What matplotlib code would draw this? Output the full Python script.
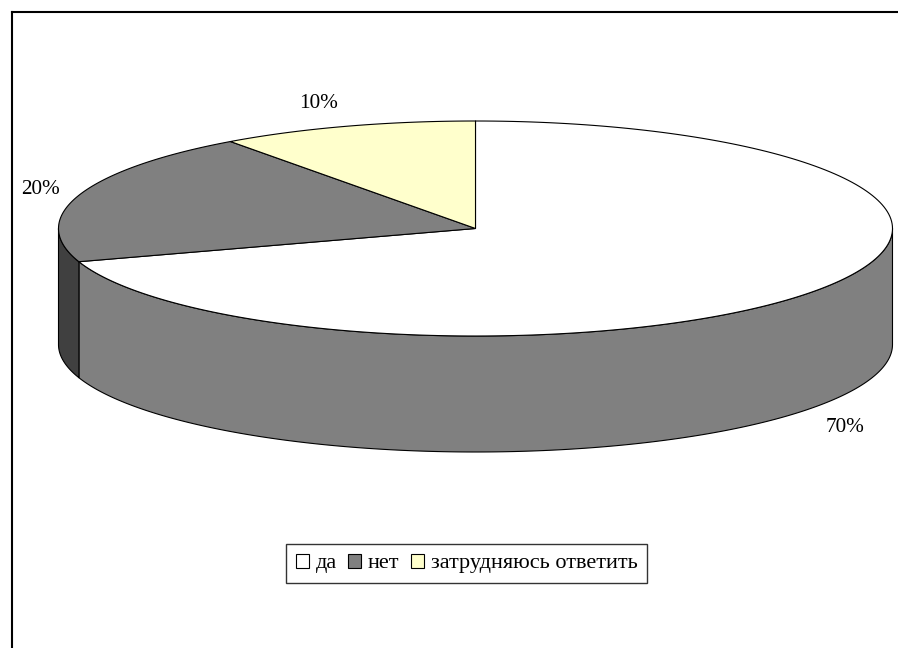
import numpy as np
import matplotlib.pyplot as plt
from matplotlib.patches import Polygon, Patch
from matplotlib.lines import Line2D

# ---- data ----
categories = ['да', 'нет', 'затрудняюсь ответить']
values = [70, 20, 10]
pct_labels = ['70%', '20%', '10%']

# ---- styles ----
top_colors = ['#FFFFFF', '#808080', '#FFFFCC']
side_colors = ['#808080', '#404040', '#808066']
label_pos = [(845, 427), (41, 190), (318.7, 104)]
FONT = ['Liberation Serif', 'DejaVu Serif']

W, H = 898, 648
fig = plt.figure(figsize=(W / 100, H / 100), dpi=100)
ax = fig.add_axes([0, 0, 1, 1])
ax.set_xlim(0, W)
ax.set_ylim(H, 0)
ax.axis('off')

cx, cy = 475.5, 228.5
a, b = 417.0, 107.5
depth = 116.0
ec = 'black'
lw = 0.8


def arc(t0, t1, dy=0.0, n=200):
    t = np.radians(np.linspace(t0, t1, n))
    return np.column_stack([cx + a * np.cos(t), cy - b * np.sin(t) + dy])


total = float(sum(values))
starts, ends = [], []
s = 90.0
for v in values:
    e = s - 360.0 * v / total
    starts.append(s)
    ends.append(e)
    s = e

# side walls (front half only)
for i in range(len(values)):
    s, e = starts[i], ends[i]
    for k in range(-2, 2):
        lo = max(e, 180 + 360 * k)
        hi = min(s, 360 + 360 * k)
        if hi - lo > 1e-6:
            top = arc(lo, hi)
            bot = arc(hi, lo, dy=depth)
            poly = Polygon(np.vstack([top, bot]), closed=True,
                           facecolor=side_colors[i], edgecolor=ec, lw=lw,
                           joinstyle='round')
            ax.add_patch(poly)

# top faces
for i in range(len(values)):
    pts = np.vstack([[cx, cy], arc(starts[i], ends[i])])
    ax.add_patch(Polygon(pts, closed=True, facecolor=top_colors[i],
                         edgecolor=ec, lw=lw, joinstyle='round'))

# percentage labels
for txt, (x, y) in zip(pct_labels, label_pos):
    ax.text(x, y, txt, ha='center', va='center', fontsize=15.3,
            family=FONT, color='black')

# chart frame (top and left border visible)
fig.add_artist(Line2D([11.5 / W, 1.0], [1 - 11.5 / H, 1 - 11.5 / H],
                      transform=fig.transFigure, color='black', lw=1.5))
fig.add_artist(Line2D([11.5 / W, 11.5 / W], [1 - 11.5 / H, 0.0],
                      transform=fig.transFigure, color='black', lw=1.5))

# legend
handles = [Patch(facecolor=c, edgecolor='black', lw=0.8) for c in top_colors]
leg = fig.legend(handles, categories, loc='center',
                 bbox_to_anchor=(466.5 / W, 1 - 563.5 / H), ncol=3,
                 frameon=True, fancybox=False, shadow=False,
                 prop={'family': FONT, 'size': 16},
                 handlelength=0.6, handleheight=0.6, handletextpad=0.3,
                 columnspacing=0.5, borderpad=0.45, borderaxespad=0)
leg.get_frame().set_edgecolor('black')
leg.get_frame().set_linewidth(1.0)

fig.savefig('out.png', dpi=100, facecolor='white')
